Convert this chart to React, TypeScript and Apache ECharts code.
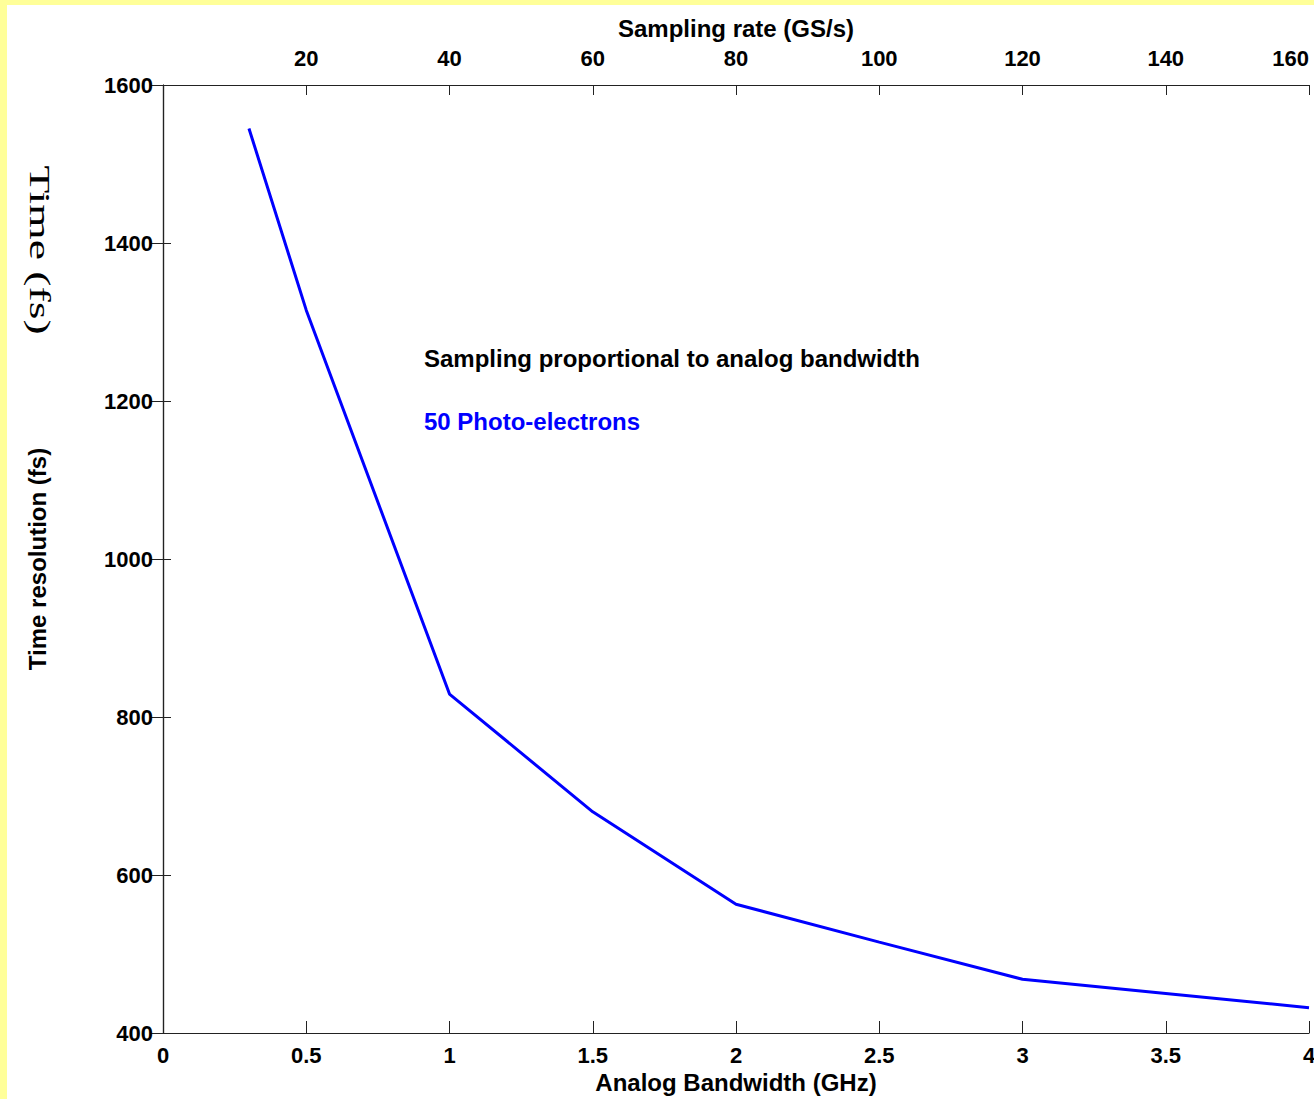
import React, { useEffect, useRef } from "react";
import * as echarts from "echarts";

const bandwidthGHz = [0.3, 0.5, 1, 1.5, 2, 2.5, 3, 3.5, 4];
const timeResolutionFs = [1545, 1315, 829, 680, 563, 515, 468, 450, 432];

const bottomAxis = { min: 0, max: 4, interval: 0.5 };
const topAxis = { min: 0, max: 160, interval: 20 };
const leftAxis = { min: 400, max: 1600, interval: 200 };

const annotationTitle = "Sampling proportional to analog bandwidth";
const seriesLabel = "50 Photo-electrons";

const FONT = "'Liberation Sans', Arial, sans-serif";

export default function App() {
  const ref = useRef<HTMLDivElement>(null);

  useEffect(() => {
    if (!ref.current) return;
    const chart = echarts.init(ref.current, null, { renderer: "svg" });
    const axisLine = { show: true, lineStyle: { color: "#222", width: 1.2 } };
    const labelStyle = {
      color: "#000",
      fontFamily: FONT,
      fontWeight: "bold" as const,
      fontSize: 22,
    };
    const nameStyle = {
      color: "#000",
      fontFamily: FONT,
      fontWeight: "bold" as const,
      fontSize: 24,
    };
    chart.setOption({
      animation: false,
      backgroundColor: "#ffff99",
      graphic: [
        {
          type: "rect",
          silent: true,
          z: -10,
          shape: { x: 7, y: 5, width: 1320, height: 1100 },
          style: { fill: "#ffffff" },
        },
        {
          type: "text",
          x: 40,
          y: 250,
          rotation: -Math.PI / 2,
          scaleX: 1.52,
          style: {
            text: "Time (fs)",
            font: "30px 'Liberation Serif', 'Times New Roman', serif",
            fill: "#000",
            textAlign: "center",
            textVerticalAlign: "middle",
          },
        },
        {
          type: "text",
          x: 424,
          y: 358,
          style: {
            text: annotationTitle,
            font: "bold 24px " + FONT,
            fill: "#000",
            textAlign: "left",
            textVerticalAlign: "middle",
          },
        },
        {
          type: "text",
          x: 424,
          y: 421,
          style: {
            text: seriesLabel,
            font: "bold 24px " + FONT,
            fill: "#0000ff",
            textAlign: "left",
            textVerticalAlign: "middle",
          },
        },
      ],
      grid: {
        left: 163,
        right: 5,
        top: 85,
        bottom: 66,
        containLabel: false,
        outerBoundsMode: "none",
      },
      xAxis: [
        {
          type: "value",
          position: "bottom",
          min: bottomAxis.min,
          max: bottomAxis.max,
          interval: bottomAxis.interval,
          name: "Analog Bandwidth (GHz)",
          nameLocation: "middle",
          nameGap: 36,
          nameTextStyle: nameStyle,
          axisLine,
          axisTick: { show: true, inside: true, length: 12, lineStyle: { color: "#222" } },
          axisLabel: {
            ...labelStyle,
            margin: 11,
            showMinLabel: true,
            showMaxLabel: true,
            formatter: (v: number) => String(v),
          },
          splitLine: { show: false },
        },
        {
          type: "value",
          position: "top",
          min: topAxis.min,
          max: topAxis.max,
          interval: topAxis.interval,
          name: "Sampling rate (GS/s)",
          nameLocation: "middle",
          nameGap: 45,
          nameTextStyle: nameStyle,
          axisLine,
          axisTick: { show: true, inside: true, length: 10, lineStyle: { color: "#222" } },
          axisLabel: {
            ...labelStyle,
            margin: 16,
            showMinLabel: true,
            showMaxLabel: true,
            alignMaxLabel: "right",
            formatter: (v: number) => (v === 0 ? "" : String(v)),
          },
          splitLine: { show: false },
        },
      ],
      yAxis: [
        {
          type: "value",
          position: "left",
          min: leftAxis.min,
          max: leftAxis.max,
          interval: leftAxis.interval,
          name: "Time resolution (fs)",
          nameLocation: "middle",
          nameGap: 114,
          nameTextStyle: nameStyle,
          axisLine,
          axisTick: { show: true, inside: true, length: 8, lineStyle: { color: "#222" } },
          axisLabel: {
            ...labelStyle,
            margin: 10,
            showMinLabel: true,
            showMaxLabel: true,
            formatter: (v: number) => String(v),
          },
          splitLine: { show: false },
        },
        {
          type: "value",
          position: "right",
          min: leftAxis.min,
          max: leftAxis.max,
          interval: leftAxis.interval,
          axisLine,
          axisTick: { show: true, inside: true, length: 12, lineStyle: { color: "#222" } },
          axisLabel: { show: false },
          splitLine: { show: false },
        },
      ],
      series: [
        {
          type: "line",
          xAxisIndex: 0,
          yAxisIndex: 0,
          data: bandwidthGHz.map((x, i) => [x, timeResolutionFs[i]]),
          showSymbol: false,
          symbol: "none",
          lineStyle: { color: "#0000ff", width: 3 },
          silent: true,
        },
      ],
    });
    return () => chart.dispose();
  }, []);

  return (
    <div
      ref={ref}
      style={{ position: "absolute", left: 0, top: 0, width: 1314, height: 1099 }}
    />
  );
}
